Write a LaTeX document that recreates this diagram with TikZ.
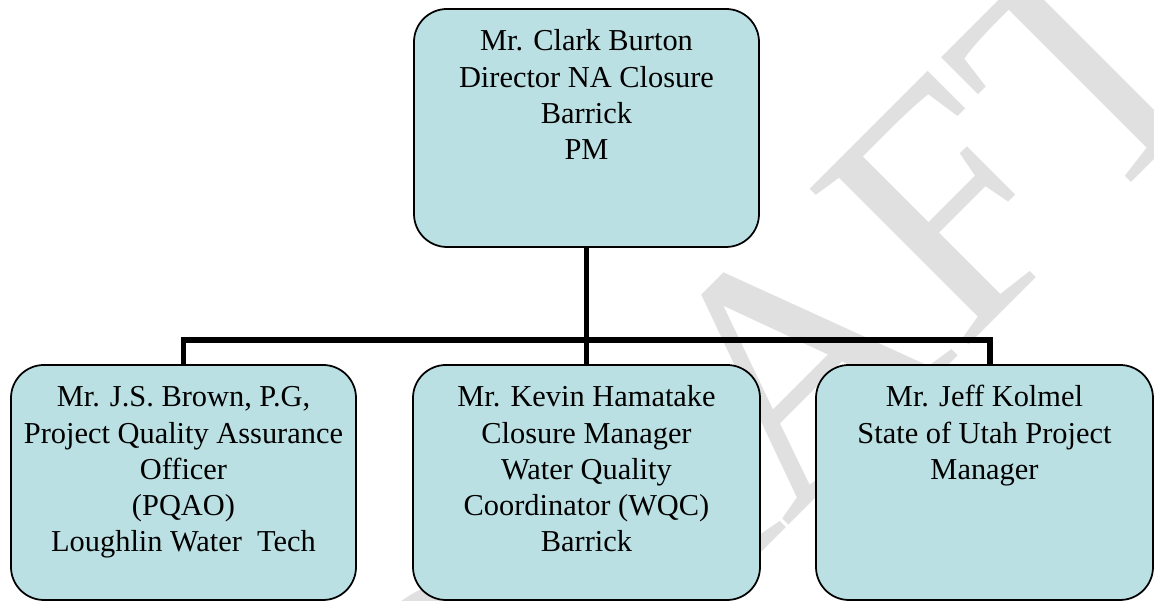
\documentclass[tikz,border=0pt]{standalone}
\usepackage{fontspec}
\setmainfont{Liberation Serif}
\usepackage{tikz}

\definecolor{boxfill}{RGB}{187,224,227}
\definecolor{wmgray}{RGB}{224,224,224}
\newcommand{\boxlines}[2]{\parbox[c][#1][t]{3.3cm}{\centering\fontsize{8.65}{10.25}\selectfont\rule{0pt}{0.42cm}#2}}

\begin{document}
\begin{tikzpicture}[
		person/.style={draw, line width=0.5pt, fill=boxfill, rounded corners=0.33cm, inner sep=0pt, minimum width=3.45cm},
		link/.style={line width=1.6pt}
	]
	\useasboundingbox (0,0) rectangle (11.54,6.01);
	\begin{scope}
		\clip (0,0) rectangle (11.54,6.01);
		\node[rotate=45, anchor=base, inner sep=0pt, text=wmgray, font=\fontsize{96.7}{96.7}\selectfont] (draft) at (8.47,1.34) {DRAFT};
	\end{scope}
			\node[person] (boss) at (5.865,4.73) {\boxlines{2.38cm}{Mr. Clark Burton\\Director NA Closure\\Barrick\\PM}};
			\node[person] (brown) at (1.835,1.185) {\boxlines{2.35cm}{Mr. J.S. Brown, P.G,\\Project Quality Assurance\\Officer\\(PQAO)\\Loughlin Water~ Tech}};
			\node[person, minimum width=3.47cm] (hamatake) at (5.865,1.185) {\boxlines{2.35cm}{Mr. Kevin Hamatake\\Closure Manager\\Water Quality\\Coordinator (WQC)\\Barrick}};
			\node[person, minimum width=3.37cm] (kolmel) at (9.845,1.185) {\boxlines{2.35cm}{Mr. Jeff Kolmel\\State of Utah Project\\Manager}};
	\coordinate (bar) at (5.865,2.61);
	\draw[link] (boss.south) -- (hamatake.north);
	\draw[link] (brown.north) |- (bar) -| ([xshift=0.55mm]kolmel.north);
\end{tikzpicture}
\end{document}
